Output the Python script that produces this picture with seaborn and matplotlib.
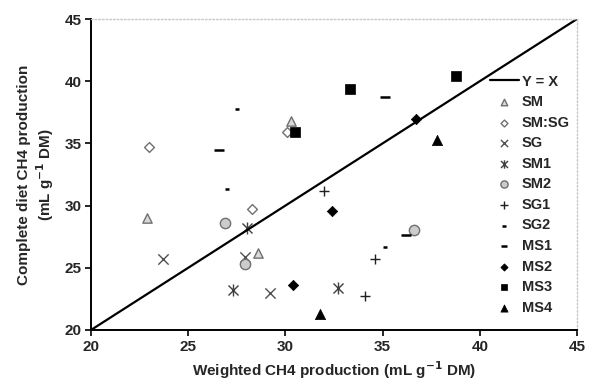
import matplotlib
matplotlib.use("Agg")
import matplotlib.pyplot as plt
from matplotlib.path import Path
import seaborn as sns
import pandas as pd

sns.set_style("white")
plt.rcParams['font.family'] = ['Liberation Sans', 'DejaVu Sans']
plt.rcParams['font.weight'] = 'bold'
plt.rcParams['mathtext.default'] = 'bf'

series = ["SM", "SM:SG", "SG", "SM1", "SM2", "SG1", "SG2", "MS1", "MS2", "MS3", "MS4"]
x_vals = {
    "SM":    [22.9, 28.6, 30.3],
    "SM:SG": [23.0, 28.3, 30.1],
    "SG":    [23.7, 27.9, 29.2],
    "SM1":   [28.0, 27.3, 32.7],
    "SM2":   [26.9, 27.9, 36.6],
    "SG1":   [32.0, 34.6, 34.1],
    "SG2":   [27.5, 27.0, 35.1],
    "MS1":   [26.6, 35.1, 36.2],
    "MS2":   [36.7, 32.4, 30.4],
    "MS3":   [30.5, 33.3, 38.8],
    "MS4":   [37.8, 31.8],
}
y_vals = {
    "SM":    [29.0, 26.2, 36.8],
    "SM:SG": [34.7, 29.7, 35.9],
    "SG":    [25.7, 25.9, 23.0],
    "SM1":   [28.2, 23.2, 23.4],
    "SM2":   [28.6, 25.3, 28.0],
    "SG1":   [31.2, 25.7, 22.7],
    "SG2":   [37.8, 31.3, 26.7],
    "MS1":   [34.5, 38.7, 27.6],
    "MS2":   [37.0, 29.6, 23.6],
    "MS3":   [35.9, 39.4, 40.4],
    "MS4":   [35.3, 21.3],
}
line_x = [20, 45]
line_y = [20, 45]

# custom "x with vertical bar" marker
ast = Path([(-1, -1), (1, 1), (-1, 1), (1, -1), (0, -1.2), (0, 1.2)],
           [Path.MOVETO, Path.LINETO, Path.MOVETO, Path.LINETO, Path.MOVETO, Path.LINETO])

styles = {
    "SM":    dict(marker="^", s=45, color="#d9d9d9", edgecolor="#707070", linewidth=1.0),
    "SM:SG": dict(marker="D", s=25, color="white", edgecolor="#707070", linewidth=1.0),
    "SG":    dict(marker="x", s=55, color="#505050", linewidth=1.0),
    "SM1":   dict(marker=ast, s=75, color="#404040", edgecolor="#404040", linewidth=1.0),
    "SM2":   dict(marker="o", s=55, color="#cccccc", edgecolor="#707070", linewidth=1.0),
    "SG1":   dict(marker="+", s=55, color="#202020", linewidth=1.0),
    "SG2":   dict(marker="_", s=12, color="black", linewidth=1.8),
    "MS1":   dict(marker="_", s=50, color="black", linewidth=1.8),
    "MS2":   dict(marker="D", s=28, color="black", edgecolor="black", linewidth=0.5),
    "MS3":   dict(marker="s", s=50, color="black", edgecolor="black", linewidth=0.5),
    "MS4":   dict(marker="^", s=55, color="black", edgecolor="black", linewidth=0.5),
}

fig = plt.figure(figsize=(5.89, 3.85), dpi=100)
ax = fig.add_axes([0.1545, 0.1429, 0.8251, 0.8077])

sns.lineplot(x=line_x, y=line_y, ax=ax, color="black", linewidth=1.6, label="Y = X")
for name in series:
    df = pd.DataFrame({"x": x_vals[name], "y": y_vals[name]})
    sns.scatterplot(data=df, x="x", y="y", ax=ax, label=name, **styles[name])

ax.set_xlim(20, 45)
ax.set_ylim(20, 45)
ax.set_xticks([20, 25, 30, 35, 40, 45])
ax.set_yticks([20, 25, 30, 35, 40, 45])
ax.tick_params(axis="both", which="major", direction="out", length=4, width=1.2,
               labelsize=11, color="black", pad=3, bottom=True, left=True)

ax.spines["left"].set_color("black")
ax.spines["left"].set_linewidth(1.4)
ax.spines["bottom"].set_color("black")
ax.spines["bottom"].set_linewidth(1.4)
for side in ["top", "right"]:
    ax.spines[side].set_color("#c8c8c8")
    ax.spines[side].set_linestyle(":")
    ax.spines[side].set_linewidth(1.0)

ax.set_xlabel("Weighted CH4 production (mL g$^{-1}$ DM)", fontsize=11, fontweight="bold", labelpad=4)
ax.set_ylabel("Complete diet CH4 production\n(mL g$^{-1}$ DM)", fontsize=11, fontweight="bold", labelpad=6)

leg = ax.legend(loc="upper right", bbox_to_anchor=(1.0, 0.845), frameon=False,
                fontsize=10.5, handlelength=2.0, handletextpad=0.2,
                labelspacing=0.45, markerscale=0.7, borderaxespad=0.1)

fig.savefig("out.png", dpi=100)
